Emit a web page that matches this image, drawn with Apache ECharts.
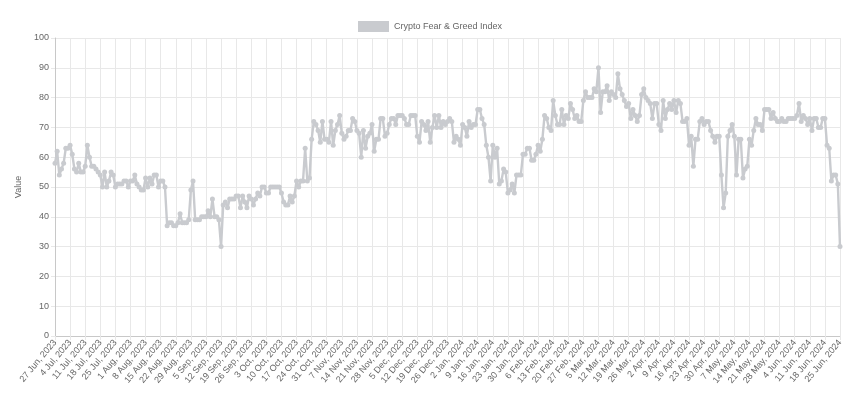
<!DOCTYPE html>
<html>
<head>
<meta charset="utf-8">
<title>Crypto Fear & Greed Index</title>
<script src="https://cdn.jsdelivr.net/npm/echarts@6/dist/echarts.min.js"></script>
<style>
  html, body { margin: 0; padding: 0; background: #fff; }
  #chart { width: 860px; height: 400px; }
</style>
</head>
<body>
<div id="chart"></div>
<script>
  // daily index values, 27 Jun 2023 -> 25 Jun 2024, one row per week
  const values2023Q3 = [
    58, 62, 54, 56, 58, 63, 63,
    64, 61, 56, 55, 58, 55, 55,
    57, 64, 60, 57, 57, 56, 55,
    54, 50, 55, 50, 52, 55, 54,
    50, 51, 51, 51, 52, 52, 50,
    52, 52, 54, 51, 50, 49, 49,
    53, 50, 53, 51, 54, 54, 50,
    52, 52, 50, 37, 38, 38, 37,
    37, 38, 41, 38, 38, 38, 39,
    49, 52, 39, 39, 39, 40, 40,
    40, 42, 40, 46, 40, 40, 39,
    30, 44, 45, 43, 46, 46, 46,
    47, 47, 43, 47, 45, 43, 47
  ];
  const values2023Q4 = [
    46, 44, 46, 48, 47, 50, 50,
    48, 48, 50, 50, 50, 50, 50,
    48, 45, 44, 44, 47, 45, 47,
    52, 50, 52, 52, 63, 52, 53,
    66, 72, 71, 69, 65, 72, 66,
    66, 65, 72, 64, 69, 71, 74,
    68, 66, 67, 69, 69, 73, 72,
    69, 68, 60, 69, 63, 67, 68,
    71, 62, 66, 66, 73, 73, 67,
    68, 71, 73, 73, 71, 74, 74,
    74, 73, 71, 71, 74, 74, 74,
    67, 65, 72, 71, 69, 72, 65,
    70, 74, 70, 74, 70, 72, 71
  ];
  const values2024Q1 = [
    72, 73, 72, 65, 67, 66, 64,
    71, 70, 67, 72, 70, 71, 71,
    76, 76, 73, 71, 64, 60, 52,
    64, 60, 63, 51, 52, 56, 55,
    48, 49, 51, 48, 54, 54, 54,
    61, 61, 63, 63, 59, 59, 61,
    64, 62, 66, 74, 73, 70, 69,
    79, 74, 71, 71, 76, 71, 74,
    73, 78, 76, 73, 74, 72, 72,
    79, 82, 80, 80, 80, 83, 82,
    90, 75, 82, 82, 84, 79, 82,
    81, 80, 88, 83, 81, 79, 77,
    78, 73, 76, 74, 72, 74, 81
  ];
  const values2024Q2 = [
    83, 80, 79, 78, 73, 78, 78,
    71, 69, 79, 73, 76, 78, 76,
    79, 75, 79, 78, 72, 72, 73,
    64, 67, 57, 66, 66, 72, 73,
    71, 72, 72, 69, 67, 65, 67,
    67, 54, 43, 48, 67, 69, 71,
    67, 54, 66, 66, 53, 56, 57,
    66, 64, 69, 73, 71, 71, 69,
    76, 76, 76, 73, 75, 73, 72,
    72, 73, 72, 72, 73, 73, 73,
    73, 74, 78, 72, 74, 73, 71,
    73, 69, 73, 73, 70, 70, 73,
    73, 64, 63, 52, 54, 54, 51,
    30
  ];
  const values = values2023Q3.concat(values2023Q4, values2024Q1, values2024Q2);

  // one category per day starting 27 Jun 2023
  const monthNames = ['Jan', 'Feb', 'Mar', 'Apr', 'May', 'Jun', 'Jul', 'Aug', 'Sep', 'Oct', 'Nov', 'Dec'];
  const startDay = Date.UTC(2023, 5, 27);
  const dates = values.map((v, i) => {
    const d = new Date(startDay + i * 86400000);
    return d.getUTCDate() + ' ' + monthNames[d.getUTCMonth()] + ', ' + d.getUTCFullYear();
  });

  const lineColor = '#c9cbcf';
  const textColor = '#666';
  const gridColor = '#e8e8e8';

  const myChart = echarts.init(document.getElementById('chart'));
  myChart.setOption({
    animation: false,
    textStyle: { fontFamily: 'Liberation Sans, Arial, sans-serif' },
    legend: {
      top: 16,
      left: 'center',
      icon: 'rect',
      itemWidth: 31,
      itemHeight: 11,
      itemGap: 10,
      textStyle: { color: textColor, fontSize: 9 },
      data: [{ name: 'Crypto Fear & Greed Index', itemStyle: { color: lineColor } }]
    },
    grid: { left: 55, right: 20, top: 38, bottom: 64, containLabel: false },
    xAxis: {
      type: 'category',
      data: dates,
      boundaryGap: false,
      axisLine: { show: true, lineStyle: { color: '#c8c8c8' } },
      axisTick: { show: true, interval: 6, length: 4, lineStyle: { color: gridColor } },
      axisLabel: {
        interval: 6,
        rotate: 50,
        color: textColor,
        fontSize: 9,
        margin: 5
      },
      splitLine: { show: true, interval: 6, lineStyle: { color: gridColor } }
    },
    yAxis: {
      type: 'value',
      min: 0,
      max: 100,
      interval: 10,
      name: 'Value',
      nameLocation: 'middle',
      nameGap: 32,
      nameTextStyle: { color: textColor, fontSize: 9 },
      axisLine: { show: true, lineStyle: { color: '#c8c8c8' } },
      axisTick: { show: true, length: 4, lineStyle: { color: gridColor } },
      axisLabel: { color: textColor, fontSize: 9, margin: 6 },
      splitLine: { show: true, lineStyle: { color: gridColor } }
    },
    series: [
      {
        name: 'Crypto Fear & Greed Index',
        type: 'line',
        data: values,
        symbol: 'circle',
        symbolSize: 5,
        showAllSymbol: true,
        itemStyle: { color: lineColor },
        lineStyle: { color: lineColor, width: 2.4 }
      }
    ]
  });
</script>
</body>
</html>
